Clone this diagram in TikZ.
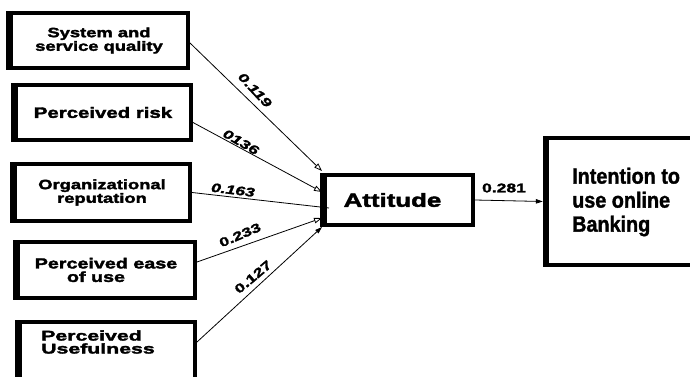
\documentclass[tikz,border=0pt]{standalone}
\usepackage{fontspec}
\setmainfont{Liberation Sans}
\newfontfamily\boxfont{Liberation Sans}[FakeStretch=1.36, FakeBold=2.4]
\newfontfamily\widefont{Liberation Sans}[FakeStretch=1.52, FakeBold=2.4]
\newfontfamily\numfont{Liberation Sans}[FakeStretch=1.4, FakeBold=2]
\newfontfamily\bigfont{Liberation Sans}[FakeStretch=0.9, FakeBold=1.4]
\usetikzlibrary{arrows.meta}

\begin{document}
\begin{tikzpicture}[x=1pt, y=-1pt,
  box/.style={draw, line width=4pt, inner sep=0pt, align=center,
    font=\boxfont\bfseries\fontsize{13.5}{12.5}\selectfont},
  leftedge/.style={line width=6.5pt},
  frame/.style={line width=4pt},
  conn/.style={line width=0.8pt},
  openhead/.style={-{Triangle[open, length=8pt, width=5.5pt, line width=0.8pt]}},
  fillhead/.style={-{Triangle[length=7pt, width=4.5pt]}},
  coef/.style={font=\numfont\bfseries\fontsize{12.5}{12.5}\selectfont, inner sep=0pt},
  coefit/.style={coef, font=\numfont\bfseries\itshape\fontsize{12.5}{12.5}\selectfont}
]
\useasboundingbox (0,0) rectangle (690,377);
\clip (0,0) rectangle (690,377);

% predictor boxes
\node[box, minimum width=178pt, minimum height=55pt] (ssq) at (99,40.5) {System and\\service quality};
\node[box, minimum width=176pt, minimum height=55pt, font=\boxfont\bfseries\fontsize{15}{15}\selectfont] (pr) at (103,112.5) {Perceived risk};
\node[box, minimum width=176pt, minimum height=57pt] (or) at (102,192.5) {Organizational\\reputation};
\node[box, minimum width=178pt, minimum height=56pt, font=\boxfont\bfseries\fontsize{14.5}{13.5}\selectfont] (peu) at (106,270) {Perceived ease\\\hspace*{-20pt}of use};
\node[box, minimum width=176pt, minimum height=66pt] (pu) at (107,355) {};
\node[anchor=west, align=left, inner sep=0pt, font=\widefont\bfseries\fontsize{14}{13}\selectfont] (putext) at (41,342) {Perceived\\Usefulness};

% mediator
\node[box, minimum width=149pt, minimum height=50pt, font=\boxfont\bfseries\fontsize{19}{19}\selectfont] (att) at (398.5,200) {\hspace*{-12pt}Attitude};

% outcome: the box runs on past the right margin
\node[minimum width=200pt, minimum height=127pt, inner sep=0pt] (int) at (645,201.5) {};
\draw[frame] (int.north east) -- (int.north west) -- (int.south west) -- (int.south east);
\node[anchor=west, align=left, inner sep=0pt, font=\bigfont\bfseries\fontsize{22}{24}\selectfont] (inttext) at (572,202) {Intention to\\use online\\Banking};

% heavier left border on every box
\foreach \n in {ssq,pr,or,peu,pu,att,int}
  \draw[leftedge] ([xshift=1.25pt]\n.north west) -- ([xshift=1.25pt]\n.south west);

% paths into Attitude
\draw[conn, openhead] ([yshift=-2.5pt]ssq.east) -- ([yshift=29pt]att.west);
\draw[conn, openhead] ([yshift=-10pt]pr.east) -- ([yshift=8pt]att.west);
\draw[conn] (or.east) -- ([xshift=7pt, yshift=-8pt]att.west);
\draw[conn, openhead] ([yshift=8pt]peu.east) -- ([yshift=-18pt]att.west);
\draw[conn, fillhead] ([yshift=13pt]pu.east) -- ([yshift=-27pt]att.west);
\draw[conn, fillhead] (att.east) -- ([xshift=-2pt]int.west);

% path coefficients
\node[coefit, rotate=-47] (c1) at (255,90) {0.119};
\node[coefit, rotate=-30] (c2) at (241,142) {0136};
\node[coefit, rotate=-7] (c3) at (233,190) {0.163};
\node[coef, rotate=23] (c4) at (240,235) {0.233};
\node[coef, rotate=40] (c5) at (253,277) {0.127};
\node[coef] (c6) at (504,188) {0.281};
\end{tikzpicture}
\end{document}
